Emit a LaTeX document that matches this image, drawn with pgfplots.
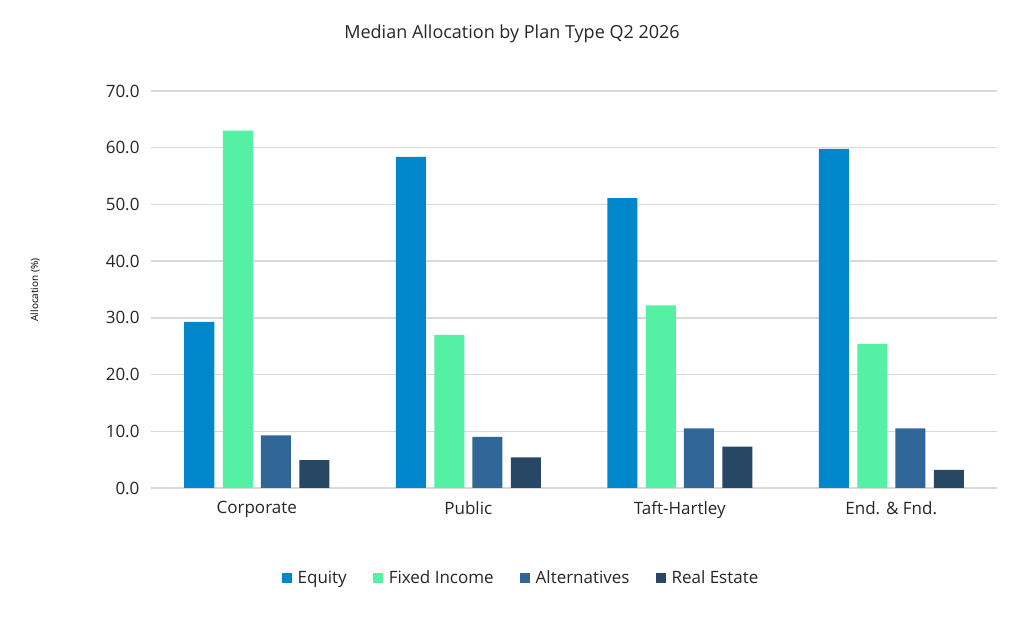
\documentclass[border=0pt]{standalone}
\usepackage{pgfplots}
\pgfplotsset{compat=1.18}
\usepackage{fontspec}
\setmainfont{Open Sans}
\definecolor{eq}{HTML}{0086CA}
\definecolor{fi}{HTML}{54F0A4}
\definecolor{al}{HTML}{316698}
\definecolor{re}{HTML}{274765}
\definecolor{gr}{HTML}{D9D9D9}
\definecolor{tx}{HTML}{262626}
\begin{document}
\begin{tikzpicture}
\useasboundingbox (-151pt,-132pt) rectangle (873pt,488pt);
\begin{axis}[
  at={(0,0)}, anchor=south west,
  scale only axis, width=846pt, height=397pt,
  xmin=-0.5, xmax=3.5, ymin=0, ymax=70,
  ybar, bar width=30pt,
  xtick=data, xticklabels={Corporate,Public,Taft-Hartley,End. \& Fnd.},
  ytick={0,10,...,70},
  yticklabel={\pgfmathprintnumber[fixed,fixed zerofill,precision=1]{\tick}},
  /pgf/number format/assume math mode=true,
  ymajorgrids, grid style={gr, line width=1.5pt},
  axis x line*=bottom, axis y line*=left,
  y axis line style={draw=none},
  x axis line style={gr, line width=1.5pt},
  major tick length=0pt,
  ticklabel style={font=\fontsize{17}{19}\selectfont, text=tx},
  xticklabel style={yshift=-10pt},
  yticklabel style={xshift=-8pt},
  ylabel={Allocation (\%)}, ylabel style={font=\fontsize{19}{21}\selectfont, text=tx},
  every axis y label/.style={at={(-116pt,198pt)}, rotate=90, anchor=center},
  title={Median Allocation by Plan Type Q2 2026},
  title style={font=\fontsize{18}{20}\selectfont, text=tx, at={(361pt,448pt)}, anchor=center},
  legend columns=4,
  legend style={draw=none, at={(370pt,-90pt)}, anchor=center, font=\fontsize{17}{19}\selectfont, text=tx,
    /tikz/every odd column/.append style={column sep=4pt},
    /tikz/every even column/.append style={column sep=24pt}},
  legend image code/.code={\fill[#1] (0,-5pt) rectangle (10pt,5pt);},
  enlarge x limits=false,
]
\addplot[fill=eq, draw=none, bar shift=-57.5pt] coordinates {(0,29.3) (1,58.4) (2,51.1) (3,59.8)};
\addplot[fill=fi, draw=none, bar shift=-19pt] coordinates {(0,63.0) (1,27.0) (2,32.2) (3,25.4)};
\addplot[fill=al, draw=none, bar shift=19pt] coordinates {(0,9.3) (1,9.0) (2,10.5) (3,10.5)};
\addplot[fill=re, draw=none, bar shift=57.5pt] coordinates {(0,4.9) (1,5.4) (2,7.3) (3,3.2)};
\legend{Equity,Fixed Income,Alternatives,Real Estate}
\end{axis}
\end{tikzpicture}
\end{document}
